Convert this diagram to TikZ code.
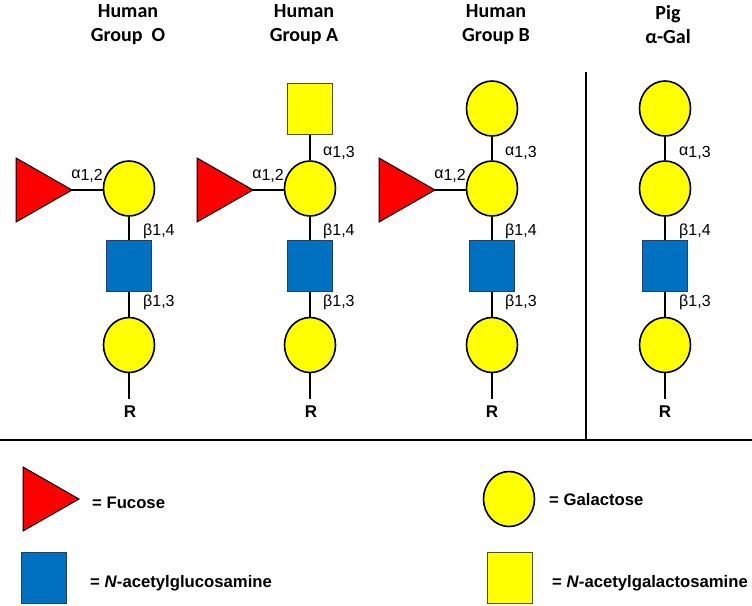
\documentclass[tikz,border=0pt]{standalone}
\usepackage{fontspec}
\setmainfont{Liberation Sans}
\newfontfamily\titlefont{Carlito}
\usetikzlibrary{shapes.geometric}
\definecolor{galy}{HTML}{FFFF00}
\definecolor{fucred}{HTML}{FF0000}
\definecolor{glcblue}{HTML}{0070C0}
\definecolor{glcedge}{HTML}{1F3F6F}
\definecolor{galnacedge}{HTML}{505020}
\begin{document}
\begin{tikzpicture}[x=1pt,y=-1pt,
  gal/.style={ellipse, draw=black, line width=1.6pt, fill=galy, minimum width=51pt, minimum height=55pt, inner sep=0pt},
  glcnac/.style={rectangle, draw=glcedge, line width=0.8pt, fill=glcblue, minimum width=45pt, minimum height=51pt, inner sep=0pt},
  galnac/.style={rectangle, draw=galnacedge, line width=1pt, fill=galy, minimum width=45pt, minimum height=51pt, inner sep=0pt},
  fuc/.style={draw=black, line width=1pt, fill=fucred, line join=miter},
  link/.style={line width=1.3pt},
  divider/.style={line width=2pt},
  lab/.style={font=\fontsize{16}{18}\selectfont, inner sep=0pt},
  ttl/.style={font=\titlefont\bfseries\fontsize{20}{24}\selectfont, align=center, inner sep=0pt},
  rlab/.style={font=\bfseries\fontsize{17}{19}\selectfont, inner sep=0pt},
  leg/.style={font=\bfseries\fontsize{16.7}{19}\selectfont, anchor=west, inner sep=0pt}
]
\useasboundingbox (0,0) rectangle (752,605);

% titles
\node[ttl] (tO) at (128,25) {Human\\Group~~O};
\node[ttl] (tA) at (304,25) {Human\\Group A};
\node[ttl] (tB) at (496,25) {Human\\Group B};
\node[ttl] (tP) at (668,25) {Pig\\α-Gal};

% dividers
\coordinate (vtop) at (586,72);
\coordinate (vbot) at (586,440);
\coordinate (hl) at (0,440);
\coordinate (hr) at (752,440);
\draw[divider] (vtop) -- (vbot);
\draw[divider] (hl) -- (hr);

% ---------- Group O ----------
\node[gal] (o1) at (129,188.5) {};
\node[glcnac] (o2) at (129,266) {};
\node[gal] (o3) at (129,345) {};
\node[rlab] (oR) at (130,412) {R};
\coordinate (oRt) at (129,399);
\draw[fuc] (16,158) -- (72,190) -- (16,222) -- cycle;
\coordinate (ofuc) at (72,190);
\draw[link] (ofuc) -- (o1.west |- ofuc);
\draw[link] (o1) -- (o2);
\draw[link] (o2) -- (o3);
\draw[link] (o3) -- (oRt);
\node[lab, anchor=east] (oa12) at (103,176) {\raisebox{2.5pt}{α}1,2};
\node[lab, anchor=west] (ob14) at (143,231) {β1,4};
\node[lab, anchor=west] (ob13) at (143,302) {β1,3};

% ---------- Group A ----------
\node[galnac] (a0) at (310,109) {};
\node[gal] (a1) at (310,188.5) {};
\node[glcnac] (a2) at (310,266) {};
\node[gal] (a3) at (310,345) {};
\node[rlab] (aR) at (311,412) {R};
\coordinate (aRt) at (310,399);
\draw[fuc] (197,158) -- (253,190) -- (197,222) -- cycle;
\coordinate (afuc) at (253,190);
\draw[link] (afuc) -- (a1.west |- afuc);
\draw[link] (a0) -- (a1);
\draw[link] (a1) -- (a2);
\draw[link] (a2) -- (a3);
\draw[link] (a3) -- (aRt);
\node[lab, anchor=east] (aa12) at (284,176) {\raisebox{2.5pt}{α}1,2};
\node[lab, anchor=west] (aa13) at (323,153) {\raisebox{2.5pt}{α}1,3};
\node[lab, anchor=west] (ab14) at (323,231) {β1,4};
\node[lab, anchor=west] (ab13) at (323,302) {β1,3};

% ---------- Group B ----------
\node[gal] (b0) at (492,108.5) {};
\node[gal] (b1) at (492,188.5) {};
\node[glcnac] (b2) at (492,266) {};
\node[gal] (b3) at (492,345) {};
\node[rlab] (bR) at (492,412) {R};
\coordinate (bRt) at (492,399);
\draw[fuc] (379,158) -- (435,190) -- (379,222) -- cycle;
\coordinate (bfuc) at (435,190);
\draw[link] (bfuc) -- (b1.west |- bfuc);
\draw[link] (b0) -- (b1);
\draw[link] (b1) -- (b2);
\draw[link] (b2) -- (b3);
\draw[link] (b3) -- (bRt);
\node[lab, anchor=east] (ba12) at (466,176) {\raisebox{2.5pt}{α}1,2};
\node[lab, anchor=west] (ba13) at (505,153) {\raisebox{2.5pt}{α}1,3};
\node[lab, anchor=west] (bb14) at (505,231) {β1,4};
\node[lab, anchor=west] (bb13) at (505,302) {β1,3};

% ---------- Pig ----------
\node[gal] (p0) at (665,108.5) {};
\node[gal] (p1) at (665,188.5) {};
\node[glcnac] (p2) at (665,266) {};
\node[gal] (p3) at (665,345) {};
\node[rlab] (pR) at (665,412) {R};
\coordinate (pRt) at (665,399);
\draw[link] (p0) -- (p1);
\draw[link] (p1) -- (p2);
\draw[link] (p2) -- (p3);
\draw[link] (p3) -- (pRt);
\node[lab, anchor=west] (pa13) at (679,153) {\raisebox{2.5pt}{α}1,3};
\node[lab, anchor=west] (pb14) at (679,231) {β1,4};
\node[lab, anchor=west] (pb13) at (679,302) {β1,3};

% ---------- Legend ----------
\draw[fuc] (23,467) -- (79,499) -- (23,531) -- cycle;
\node[leg] (lfuc) at (92,503) {= Fucose};
\node[glcnac] (lglc) at (43.5,578) {};
\node[leg] (lglct) at (90,583) {= \textit{N}-acetylglucosamine};
\node[gal] (lgal) at (509,499) {};
\node[leg] (lgalt) at (549,500) {= Galactose};
\node[galnac] (lgalnac) at (509.5,578) {};
\node[leg] (lgalnact) at (552,583) {= \textit{N}-acetylgalactosamine};
\end{tikzpicture}
\end{document}
